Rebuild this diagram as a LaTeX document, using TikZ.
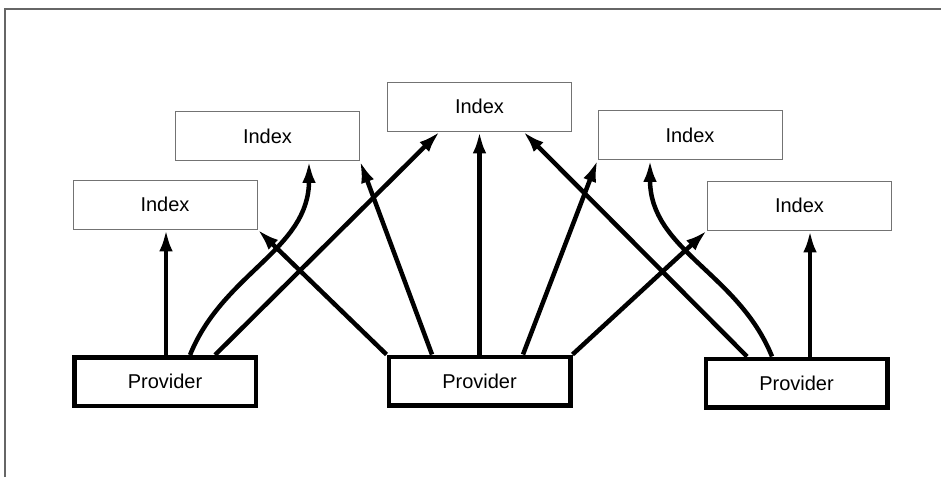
\documentclass[tikz,border=0pt]{standalone}
\usepackage{fontspec}
\setmainfont{Liberation Sans}
\usetikzlibrary{arrows.meta}
\begin{document}
\begin{tikzpicture}[x=1pt,y=1pt,
  indexbox/.style={draw=black!55,line width=0.8pt,fill=white,minimum width=184pt,minimum height=49pt,inner sep=0pt,font=\fontsize{20}{24}\selectfont},
  provbox/.style={draw=black,line width=4.5pt,fill=white,minimum width=181.5pt,minimum height=48.5pt,inner sep=0pt,font=\fontsize{20}{24}\selectfont},
  link/.style={line width=4.5pt,-{Latex[length=22pt,width=13.5pt]}}]
\useasboundingbox (0,0) rectangle (941,477);
\fill[white] (0,0) rectangle (941,477);
\draw[black!60,line width=1.3pt] (5,0) -- (5,468) -- (941,468);
% providers
\node[provbox] (P1) at (165,95.5) {Provider};
\node[provbox] (P2) at (479.5,96) {Provider};
\node[provbox] (P3) at (796.5,94) {Provider};
% indices
\node[indexbox] (I1) at (165,272.5) {Index};
\node[indexbox] (I2) at (267.5,341) {Index};
\node[indexbox] (I3) at (479.5,370.5) {Index};
\node[indexbox] (I4) at (690,342) {Index};
\node[indexbox] (I5) at (799.5,271.5) {Index};
% connectors from P1
\draw[link] ([xshift=1]P1.north) -- ([xshift=1]I1.south);
\draw[link] ([xshift=25]P1.north) to[out=68,in=-90] ([xshift=41.5]I2.south);
\draw[link] ([xshift=50]P1.north) -- ([xshift=-39.5]I3.south);
% connectors from P2
\draw[link] (P2.north west) -- (I1.south east);
\draw[link] ([xshift=-47.5]P2.north) -- (I2.south east);
\draw[link] (P2.north) -- (I3.south);
\draw[link] ([xshift=43.5]P2.north) -- (I4.south west);
\draw[link] (P2.north east) -- (I5.south west);
% connectors from P3
\draw[link] ([xshift=-49.5]P3.north) -- ([xshift=43.5]I3.south);
\draw[link] ([xshift=-24.5]P3.north) to[out=112,in=-90] ([xshift=-40]I4.south);
\draw[link] ([xshift=10.5]I5.south |- P3.north) -- ([xshift=10.5]I5.south);
\end{tikzpicture}
\end{document}
